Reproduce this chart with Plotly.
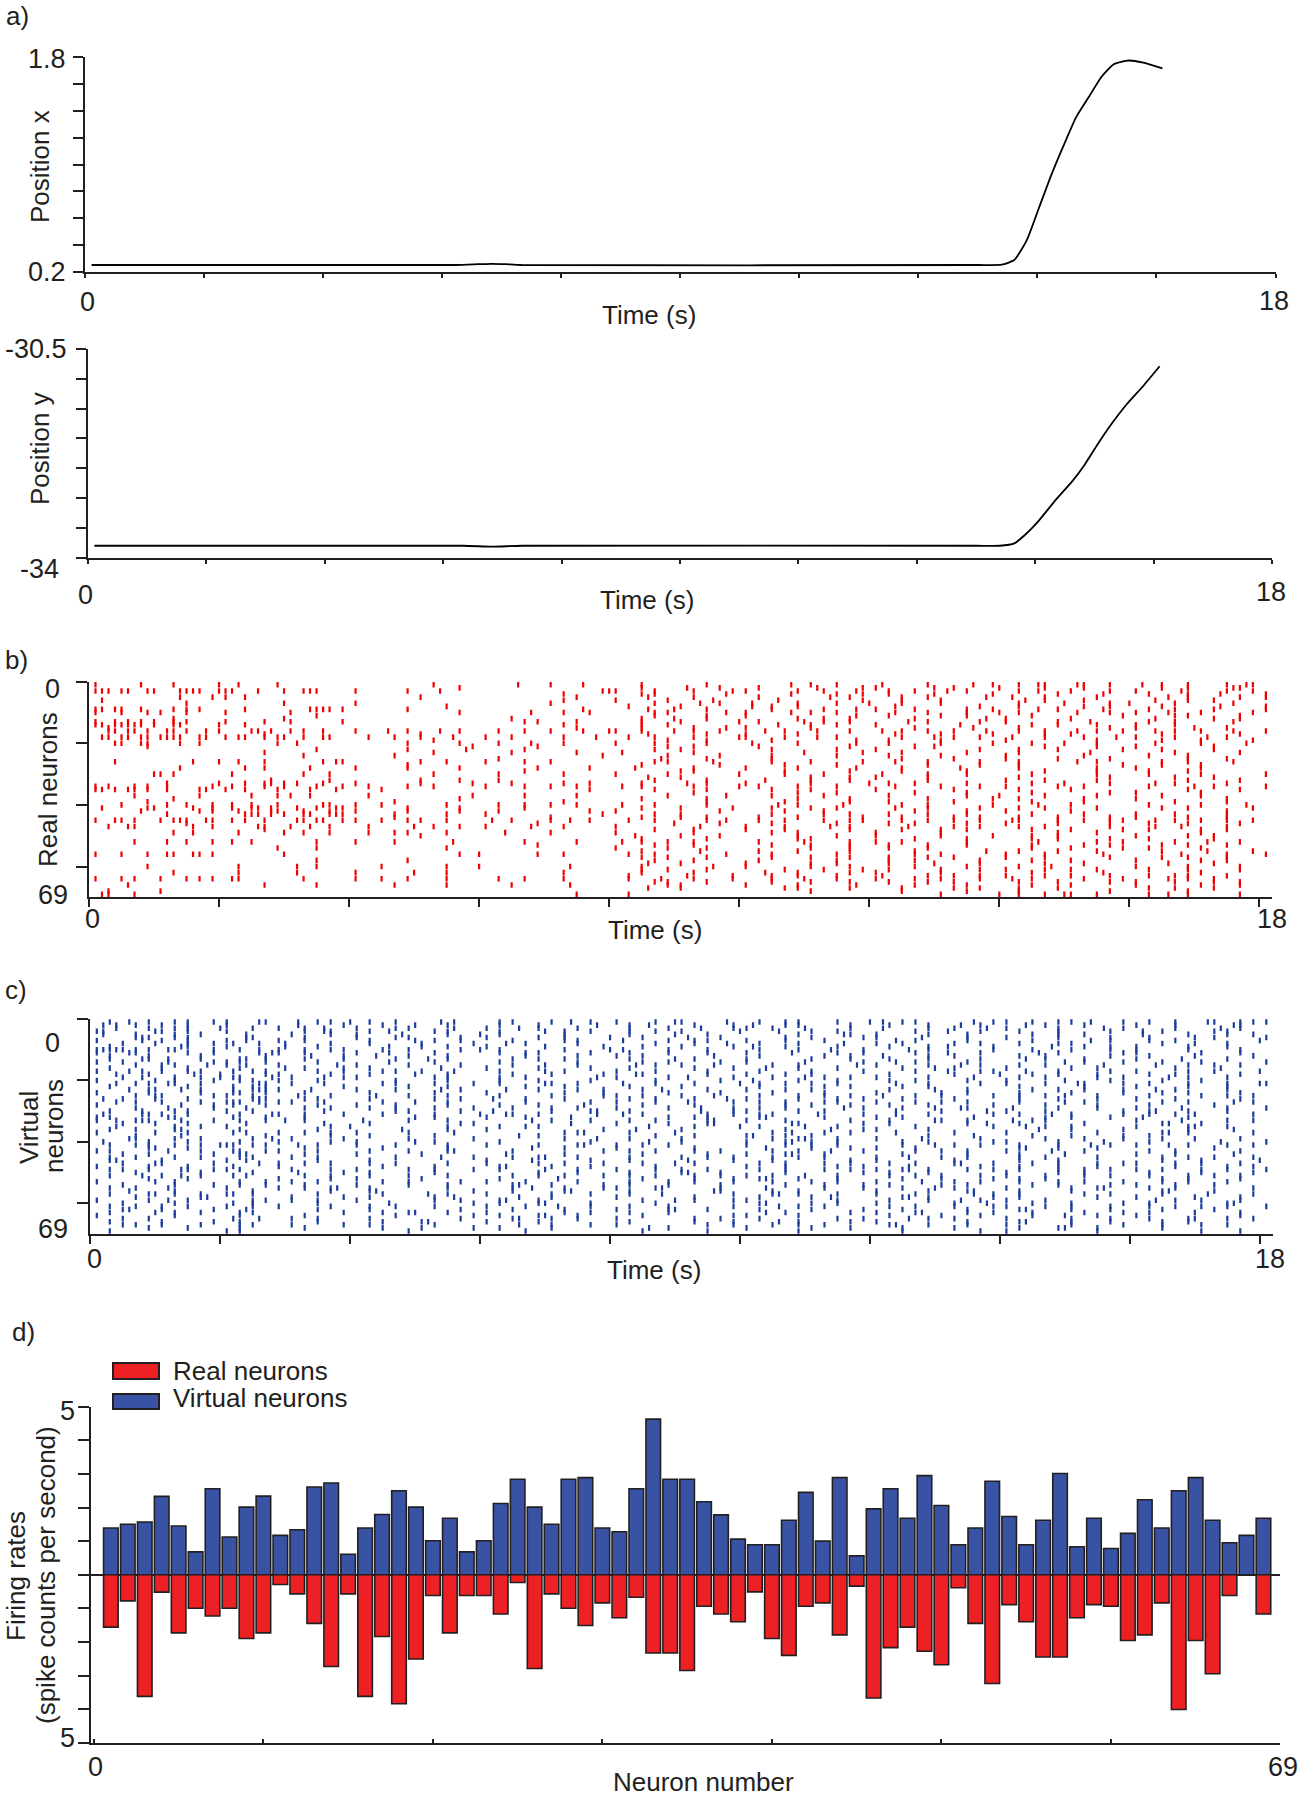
import plotly.graph_objects as go

W, H = 1298, 1800
FONT = "Liberation Sans, Arial, Helvetica, sans-serif"
INK = "#231f20"
FS = 26      # axis titles / legend
FT = 27      # tick numbers

# ---------------- panel a: trajectory ----------------
TIME_X = [0.1, 5.6, 5.95, 6.15, 6.35, 6.6, 13.5, 13.86, 14.05, 14.24, 14.43, 14.62,
          14.81, 14.99, 15.18, 15.37, 15.56, 15.78, 16.0, 16.29]
POS_X = [0.25, 0.25, 0.256, 0.259, 0.256, 0.25, 0.25, 0.252, 0.287, 0.436, 0.685, 0.934,
         1.158, 1.357, 1.506, 1.655, 1.75, 1.776, 1.76, 1.718]

TIME_Y = [0.1, 5.7, 6.15, 6.6, 13.5, 13.86, 14.08, 14.27, 14.46, 14.71, 14.96, 15.15,
          15.34, 15.53, 15.78, 16.04, 16.29]
POS_Y = [-33.80, -33.80, -33.815, -33.80, -33.80, -33.80, -33.76, -33.59, -33.37, -33.03,
         -32.72, -32.44, -32.11, -31.80, -31.44, -31.12, -30.79]

# ---------------- panels b, c: spike rasters ----------------
# one string per neuron row; each digit covers 0.2 s:
# 0 = no spike, 1 = spike in first 0.1 s bin, 2 = second bin, 3 = both
RED_ROWS = [
    "1002001002 0100100000 0000001000 0020010200 0010000100 0002010100 2000100201 0121021010 2010100121 0",
    "0000000000 0000000000 0000000010 0000000000 0010020010 0100020001 1000201002 0001001000 0010100210 0",
    "3130302312 3020203100 1000102000 0000000003 1001001001 1000101020 0101020100 0120010010 1002000101 0",
    "0000000000 0000000000 0000000000 0000001000 0011000020 0002000101 0100200001 0000100200 0100102000 1",
    "0000002001 1200000000 0000010000 0000000100 0020001000 0100002010 0010100020 2001000100 0020100010 1",
    "2000000000 0000000000 0000000000 0000001000 1000100200 0020000001 0010010000 0201001000 0200101000 0",
    "0000000100 0000200000 1000000000 0000010000 0001002010 2000100102 0010010000 0100200012 0001000200 0",
    "0000000000 0000000000 0000000100 0000000000 0100010000 2010100000 0200000010 0100001010 0010002000 1",
    "3212001110 0200002311 0000100000 0000000200 0020200100 0010001020 1001000101 0020100200 0101001000 1",
    "1010110100 1000010000 0000000010 0002001010 0001100020 1002010100 0200100102 0100020010 1020010001 0",
    "0000000000 0000000100 0000000000 0000000000 0001000100 1000000020 0100010100 0010000001 0001100010 0",
    "0000001000 0000200000 0000000000 0010000000 0010200100 0000101010 0001000020 1000010000 0200001010 0",
    "1222201100 1001010001 0000000000 0001100100 0010010002 0100201010 0020100010 1000102000 0101000200 0",
    "3233203002 0200000000 0000000000 0000001000 0010100000 0020010100 1000002000 0010100100 1001000000 0",
    "0100000000 0000000000 0000000000 0000000100 0010001020 1000010000 0001000200 0100000010 1000200100 0",
    "0321121122 0032011200 1020102010 0101010202 1010201010 0201020010 2010101020 0101020101 0201010200 1",
    "0000000000 0001000000 0000010000 0000000000 0020000100 1000100000 0200010001 0001010000 0010000010 0",
    "2132133030 1301301210 0101010200 1010001020 0101001002 1001020100 0010201010 2001001020 1001020100 0",
    "0000000000 0000000000 0000001000 0000000000 0000100100 0010000020 0100010000 1000000100 0010010001 0",
    "0212102010 0000120000 0000100010 0102001000 1001000100 2000100020 0100010001 0010200100 0200010020 0",
    "0000100000 0000000000 0000000001 0000100000 0000101000 0100000010 0001200000 0001000100 1000001000 0",
    "0000000000 0000000100 0000100020 0001000000 0001010000 0010000100 1000000010 0100100001 0010001000 0",
    "0000000000 0001000000 0000001000 0010000100 2000001000 0000200001 0010000100 0100002000 0001000010 0",
    "0000000000 0000001000 0001000000 0000000001 0000100010 0010000100 0100010000 1000001000 0100100000 0",
    "0000000000 0000000000 0000000000 0100000000 0002000100 0010000000 0010001000 1000100010 0000100100 0",
    "0200000202 0101000221 0000010100 1001010000 0001100200 0010010001 0200100010 0100020100 0010100200 0",
    "0000000000 0000000000 0000100000 0000000000 0010000010 0001000100 0000100010 0100000001 0010010000 0",
    "0000002000 0201002000 1000100010 0000100010 0200001000 1000100020 0010002000 0100000100 1000010000 0",
    "0000000000 0000000000 0000000000 0001000000 0000011000 0001000010 0010000100 0001000100 0100100000 0",
    "0000211000 2000001010 0000001000 0100001000 1000100002 0001001000 2000100100 0010000100 0100010000 1",
    "0000000000 0000000000 0000000000 0000000000 0020010000 0000010010 1000100000 0100000010 0001001000 0",
    "0000000000 0002000010 0000010010 0100000000 0001000100 0200010010 0000100000 1001000100 0000100010 0",
    "0000020002 0203220200 1000010001 0010001010 0010020100 1000010002 0101000100 0010200010 0201000100 0",
    "1101120001 2001200101 0100101000 1001010100 2010001002 0100100100 0200010010 1000101000 0100201000 1",
    "3221120030 1200102020 0010000000 0000000010 0001000100 0010010000 1000001000 0100010000 0000100010 0",
    "0000000000 0000000000 0000000000 0000000000 0000001000 0000100100 0001000100 0010000010 1000010000 0",
    "0001000010 0010112000 0100000001 0001000100 0000100020 0010001000 0100000102 0001000100 0010010000 0",
    "0000001000 0000000000 0000000010 0000000000 0010000100 0000100010 0000100001 0100001000 1000000100 0",
    "0000100000 0000000000 0001000000 0000001000 0000000100 0001000010 0100001000 0010001000 0001000100 0",
    "0010020101 2010100210 1010000100 0101010100 2001000100 0020100200 0010100001 0020010000 0100010020 0",
    "2000300201 2032020121 0000100010 0001000000 0010010001 0010010100 0200100010 0101000100 0010100001 0",
    "0002000011 0102101010 1000100010 0100000010 1000000010 0001001000 0001000100 1000010000 0000000100 0",
    "0000020000 0232203031 0001000100 1000000001 0001010000 0010001010 0100100100 0010001000 1001000100 0",
    "0000000000 0000000000 0001000000 0000010000 0010010100 0100100001 0010001010 0100100010 1000100100 0",
    "1211013121 2201021301 1010110100 2010012010 0101000120 0101001011 0010101010 2100101011 0201010101 0",
    "0000000100 0000000000 0000000000 0000100000 0000200010 0010000100 0101000100 1000100010 0100100010 0",
    "0121000201 0021012010 0100201010 1002001000 1000002000 1001002010 0020001010 0101000010 0202000100 0",
    "0000000000 0001000000 0000000000 0000000000 0001001000 1001000010 0010010100 0010010001 0100010100 0",
    "0000001200 0100201010 0101100100 0200010000 1000001000 0010100000 1000010000 0000100100 0000010000 0",
    "0000000000 0000000000 0000010000 0000000000 0200010010 0000100100 1000010001 0010100000 1000101000 0",
    "0000000000 0000000000 0000000000 0000000000 0010000100 0000110000 0001000100 0010100010 0100001000 0",
    "0001020101 2010000100 1001000200 0001000100 2010101000 0100200010 1010000100 0020000101 0001020010 0",
    "0000000000 0000000000 0000000000 0000100000 0001001000 0010010010 0100100100 0010001010 0010100100 0",
    "0000000000 0000100100 0000000100 0000000000 1000100100 0000010010 0100100000 0010010001 0100010000 0",
    "0000000000 0000000000 0000000000 0000000000 0010002000 0100100010 0001000020 0100100100 0010020001 0",
    "1010121211 0000200000 0000000012 0000101000 0101000020 0010000100 0001010000 1001000200 0002000100 1",
    "0000000000 0000000000 0000000000 0000000000 0010100100 0010010010 0100101000 1001000010 0010100100 0",
    "0000000000 0000000100 0000100000 0000000000 0001001000 0100000100 0101000010 0010010000 1000010100 0",
    "0000000000 0000000000 0000000000 0000000000 0020010000 1000010100 0100200010 0001001000 0020001000 0",
    "0000100000 0100020100 0010000102 0000002000 0010000200 1000010010 0001000100 0102000000 1000100010 0",
    "0000000000 0000000000 0000000000 0000000000 0010100100 0001001001 0100010010 1001010100 0100100010 0",
    "0000001000 0100020000 1000200100 0000001000 0010001000 0200100010 1000010000 0010000200 0000010000 0",
    "0000000000 0000000000 0000000000 0000000000 0100020001 0010100100 2000101010 1001010010 0101100100 0",
    "1011010111 2100001000 1010100100 0101001000 0102001001 0010200100 1001010010 2010001001 0020101000 0",
    "0000000000 0000000000 0000000000 0000000000 0001100100 0010010010 0100101000 0100100010 1001001010 0",
    "0020000000 0001000100 0001000100 0010002000 0000110000 1000100020 0001000100 0010010000 1000010010 0",
    "0000000000 0000000000 0000000000 0000000000 0020010000 0001100010 0010001010 0100100000 0101001000 0",
    "0100010000 0000000000 0000000000 0000000000 0000000000 0000010000 0010000100 0100000010 0000100000 0",
    "2101000000 0000000000 0000000000 0000000100 0100000000 0000000000 0000010002 0101210100 0120100010 0",
]

BLUE_ROWS = [
    "0120101101 1021020112 0101002200 0110012010 1001210020 0101100102 2011000201 1010112001 0101021011 1",
    "2201010100 1000020001 0010200100 0100100020 0120001001 2001100010 0100102010 0201001000 1001000210 0",
    "0200101102 0010101200 1001100200 1020100100 0100102001 1010200010 2000101020 1000100201 0001002010 0",
    "3000210100 1000001210 0120001100 0100201010 0101010002 0020010100 0001020010 0100100010 2010001100 0",
    "2001001010 0200010010 1002000102 0100001000 0100200100 0000100210 1000100100 0010101000 2000100101 0",
    "0003101100 0210001000 1001100010 1000101002 0010020010 0001010001 1002000100 1000100010 0100201000 1",
    "1002010100 1200101000 0100201010 0010001100 2000101100 1001001000 0201000100 0010002010 0101000002 0",
    "0010200101 2020200010 0100010001 0201000100 0001001020 0100100200 1010001010 0100110000 0010200100 0",
    "0100002100 1000200100 0020010100 1000200001 0010010001 2001000100 0100120001 0002001010 1000100100 0",
    "3311121001 0120101011 0010100012 0100001002 2000100100 0100102001 0020100001 0010010010 1000100010 0",
    "1021000101 0022101000 1020001000 0101100010 0100100100 1002000101 0001020010 0020100001 1000010010 0",
    "0100100010 0001002001 0200100100 0001000100 1010000200 0100001010 2000101000 0101000010 0100200001 0",
    "0102120010 0301001001 0001020100 0010101000 0100201000 1000010010 0100100010 0201001000 1002000100 0",
    "1010020001 1101000100 0020001000 0100000100 0010100010 1000200001 0201000100 0000201001 0010010000 1",
    "0001011020 1200100020 1000100010 0010200100 0201010200 0010100020 1000102010 0101000200 0200101010 0",
    "0100010100 0100201001 0100002000 1000100010 0100001001 0200100100 0010201000 1000010100 0001002000 0",
    "1022010110 2011000101 0011010200 0100201000 1001000100 0100010001 0001020011 0200100010 1000101002 0",
    "0200100202 0001100010 0100200100 0010010001 0210000100 1001010000 0100001002 0010100100 0101000010 0",
    "0012001012 2102010201 1000001100 0101000020 1000120001 0010201010 1000100200 0101000101 0020100100 0",
    "1000201001 0110100100 0001000100 0100100010 0001000010 2000100100 0101000100 1000200010 0010010000 0",
    "0201121010 0021010200 0011001001 0100210100 2001001002 0101010100 0200100010 1001021001 0100100102 1",
    "0100000100 2011000001 0000100100 0001001000 0100010000 0100001010 0010100000 0100001000 1000100100 0",
    "0020302010 2031102000 1001002010 0200100101 0012000100 1001010000 0100200100 0010101001 0201000100 0",
    "1000100010 2101001000 0100001000 1000001001 0000100010 0010001000 1000010100 0100010001 0010100010 0",
    "0001210001 1010020010 0200100100 0100010001 1010010200 0100101010 2001010001 0101200100 0100010101 0",
    "2010200100 0031001100 0100001010 2001001000 0101001020 1000100101 0010001000 0100100100 1001000010 0",
    "0201010010 3120110200 0010200100 0001000010 1001020001 0101001100 1001010100 0100201000 0010100201 0",
    "1000002001 2001000100 1001000100 0100100200 0010001000 0001010010 0100100001 0001000100 0100001000 0",
    "0001020001 0200001010 0101001001 0010010100 1000102001 0101000201 0010202100 2000100100 1002000100 1",
    "0102001100 1010000200 0001100010 2000010030 0100002001 1000101000 0200010020 1001000001 0300100100 0",
    "2002110100 0102101001 0010001002 0210100020 2010000101 0110020001 0200100001 0102010001 0101200001 0",
    "1100021000 2001001000 0000201000 1001002000 0000101100 0300001000 1010000200 0001010010 2000100000 0",
    "1203102001 0101201000 2000100100 0002010010 0101000300 1001000010 0100210100 2011000000 1002000101 0",
    "0010200100 0200000200 0100000011 0000002000 1000100300 0002100001 0100000120 0100001000 0030010000 0",
    "0200001010 1000000012 0000000100 0101100000 0020001002 0100200100 0001000001 0201010000 1000300100 0",
    "0101003000 0100000100 0002000100 1000000001 0200010000 0001002001 1000100000 0020010001 0000100200 0",
    "1000200100 2200101010 1000100200 0000001300 0100200000 0012001010 0200001000 1000000100 0030100001 0",
    "0001002000 0001000010 0100001000 0020100000 0001001000 3001010000 0000100200 0010010001 0100000000 0",
    "0021001010 0012010001 0000100001 0000001020 0100010000 0010300100 1002000010 0001001001 0010200010 0",
    "2000100100 0100100010 1000201000 0100000010 0020010000 1003010100 0010100001 1000100200 0100002000 1",
    "0101101012 3011020100 1001000100 1000100300 1010100000 1001010100 0010201010 0100102010 1020100101 0",
    "0000300100 0000001000 0010000100 0002001000 1000001000 0200010010 1001000000 0300100100 0000001000 0",
    "1100020010 2101100100 0100100300 0010000001 0101001010 0010102001 0001010100 1002001000 0101000010 0",
    "0010100001 0300001000 1000010000 0200001000 0010000100 1003001000 0010000100 0100200000 1001000200 0",
    "0101001010 0110010100 0001002001 0010300100 0100010101 0010101000 1020010100 0101000100 0010101001 0",
    "0300010000 1200000100 0100000000 1002000010 0100020001 0010000010 1000001000 0100100000 0010010002 0",
    "0010210001 0020101010 0101000100 1000101001 0010201000 0101001010 0101003001 0010100101 1001010010 0",
    "1000100100 2000100000 0010001000 0300010010 0001000000 1001000101 0020000010 0100100100 0001000101 0",
    "0110102101 1100010010 1000101001 0100200100 1001010100 0101001010 1030100101 0100101010 1010010100 1",
    "0001000010 0010020001 0100001000 0000100100 0100030010 0001000001 0100100000 1000101000 0100010001 0",
    "0102012010 2200001010 0100100100 0010101001 0101001010 1010200100 0101010010 1001001010 0100101010 0",
    "0000100100 0000100010 1000010000 0100020000 0010001001 0300100100 0010010001 0101000000 0010100010 0",
    "1000201000 0101010100 0010100010 1001000100 0100101001 0010010100 1002001010 0100101001 0010100100 0",
    "0010001001 0101001000 1000100100 0030010001 0100100010 0001001001 0100010100 0010100010 1001001000 0",
    "0101020000 1000101030 0100000100 0012001001 1003000010 0200001001 0010201000 1000010300 0101000001 0",
    "0020001000 0010000010 0300000001 0010003000 0100000210 0010100000 1000100300 0100010000 0030001000 0",
    "0100301010 3010000100 0010020100 1000010010 0102000001 0030100100 1001000201 0100001010 0010020001 0",
    "0001000030 0000010001 0100001200 0020010000 1000001000 0100012000 0030100001 0100000100 1000200010 0",
    "1000120100 0011010100 1000001010 0300100000 0010201001 1000000100 0100102010 1001000000 0201010010 0",
    "0010001000 2010000100 0020000001 0100300010 0001000000 0300010100 1000001020 0010010001 0100000300 0",
    "0101010100 1010100010 0101001000 1001020010 0100100001 0020101000 0101001001 1001010010 0101010100 1",
    "0030010001 0200000100 0100000010 0010001000 1000300100 0100010001 0010000100 0300010010 0010001000 0",
    "0100201010 0110000001 0010300100 1000001010 0100100000 0201000010 1003000101 0010001001 0100200010 0",
    "1000001000 0100001000 0001000001 0100300100 0010000001 1000100000 0100010010 0010200100 1000000010 0",
    "0010100000 2020010100 0100000010 0030010100 1000001010 0100000101 0020101000 1000010010 0100300101 0",
    "0100010001 0100000100 0010030000 1000100000 0100001001 0020100010 1000000100 0300010010 0010100000 0",
    "0011010010 0110010001 0100001000 0020010010 1000000101 0010101000 0300100100 1000010001 0010010100 0",
    "0000100100 0100001000 0010010001 0100010000 0020100000 1000010010 0010001000 0100300100 0010000000 0",
    "0100000000 1100000000 0000100000 0001000000 0010000100 0000100000 0010000010 1000000100 0000010010 0",
]

# ---------------- panel d: firing rates ----------------
NEURON_IDS = list(range(1, 70))
VIRTUAL_RATES = [
    1.39, 1.50, 1.57, 2.33, 1.45, 0.68, 2.56, 1.12, 2.01, 2.34,
    1.17, 1.34, 2.61, 2.73, 0.61, 1.39, 1.79, 2.50, 2.01, 1.01,
    1.68, 0.68, 1.01, 2.12, 2.84, 2.01, 1.50, 2.84, 2.89, 1.39,
    1.28, 2.56, 4.63, 2.84, 2.84, 2.17, 1.78, 1.06, 0.89, 0.89,
    1.62, 2.45, 1.00, 2.89, 0.56, 1.96, 2.56, 1.68, 2.95, 2.06,
    0.89, 1.39, 2.78, 1.73, 0.89, 1.62, 3.01, 0.83, 1.68, 0.78,
    1.23, 2.23, 1.39, 2.50, 2.89, 1.62, 0.95, 1.17, 1.68,
]
REAL_RATES = [
    1.56, 0.78, 3.62, 0.52, 1.73, 1.00, 1.23, 1.00, 1.90, 1.73,
    0.29, 0.57, 1.45, 2.73, 0.57, 3.62, 1.84, 3.84, 2.51, 0.62,
    1.73, 0.62, 0.62, 1.17, 0.23, 2.79, 0.57, 1.00, 1.51, 0.84,
    1.28, 0.67, 2.33, 2.33, 2.85, 0.94, 1.17, 1.40, 0.51, 1.90,
    2.40, 0.94, 0.84, 1.79, 0.34, 3.67, 2.17, 1.56, 2.28, 2.68,
    0.39, 1.45, 3.24, 0.89, 1.40, 2.45, 2.45, 1.28, 0.89, 0.94,
    1.96, 1.79, 0.84, 4.01, 1.96, 2.95, 0.62, 0.00, 1.17,
]


def raster_points(rows):
    xs, ys = [], []
    for r, row in enumerate(rows, start=1):
        for i, c in enumerate(row.replace(" ", "")):
            v = int(c)
            if v & 1:
                xs.append(round(0.2 * i + 0.1, 2))
                ys.append(r)
            if v & 2:
                xs.append(round(0.2 * i + 0.2, 2))
                ys.append(r)
    return xs, ys


def dom_x(a, b):
    return [a / W, b / W]


def dom_y(top, bottom):
    return [1 - bottom / H, 1 - top / H]


def axis(domain, rng, tickvals, ticklen, ticks="outside", **kw):
    d = dict(domain=domain, range=rng, tickvals=tickvals, ticks=ticks, ticklen=ticklen,
             tickwidth=2, tickcolor=INK, showline=True, linecolor=INK, linewidth=2,
             showgrid=False, zeroline=False, showticklabels=False, fixedrange=True)
    d.update(kw)
    return d


fig = go.Figure()

fig.add_trace(go.Scatter(x=TIME_X, y=POS_X, mode="lines",
                         line=dict(color="black", width=1.8, shape="spline", smoothing=0.5),
                         xaxis="x", yaxis="y", hoverinfo="skip"))
fig.add_trace(go.Scatter(x=TIME_Y, y=POS_Y, mode="lines",
                         line=dict(color="black", width=1.8, shape="spline", smoothing=0.5),
                         xaxis="x2", yaxis="y2", hoverinfo="skip"))

rx, ry = raster_points(RED_ROWS)
fig.add_trace(go.Scatter(x=rx, y=ry, mode="markers",
                         marker=dict(symbol="line-ns", size=4, color="#f00000",
                                     line=dict(color="#f00000", width=2.2)),
                         xaxis="x3", yaxis="y3", hoverinfo="skip"))
bx, by = raster_points(BLUE_ROWS)
fig.add_trace(go.Scatter(x=bx, y=by, mode="markers",
                         marker=dict(symbol="line-ns", size=4, color="#1c3d9c",
                                     line=dict(color="#1c3d9c", width=2.2)),
                         xaxis="x4", yaxis="y4", hoverinfo="skip"))

fig.add_trace(go.Bar(x=NEURON_IDS, y=VIRTUAL_RATES, width=0.86,
                     marker=dict(color="#3953a4", line=dict(color=INK, width=1.6)),
                     xaxis="x5", yaxis="y5", hoverinfo="skip"))
fig.add_trace(go.Bar(x=NEURON_IDS, y=[-v for v in REAL_RATES], width=0.86,
                     marker=dict(color="#ed2024", line=dict(color=INK, width=1.6)),
                     xaxis="x5", yaxis="y5", hoverinfo="skip"))

layout = dict(
    xaxis=axis(dom_x(85, 1275.5), [0, 18], [1.8 * k for k in range(11)], 4, anchor="y"),
    yaxis=axis(dom_y(57.3, 271.7), [0.2, 1.8], [0.2 + 0.2 * k for k in range(9)], 10, anchor="x"),
    xaxis2=axis(dom_x(87.8, 1272.2), [0, 18], [1.8 * k for k in range(11)], 4, anchor="y2"),
    yaxis2=axis(dom_y(349, 557.7), [-34, -30.5], [-34 + 0.5 * k for k in range(8)], 10, anchor="x2"),
    xaxis3=axis(dom_x(89, 1272.4), [0, 18.2], list(range(0, 19, 2)), 8, anchor="y3"),
    yaxis3=axis(dom_y(681.7, 897.3), [70, 0], [0, 20, 40, 60], 11, anchor="x3"),
    xaxis4=axis(dom_x(90.3, 1272.8), [0, 18.2], list(range(0, 19, 2)), 8, anchor="y4"),
    yaxis4=axis(dom_y(1019, 1234), [70, 0], [0, 20, 40, 60], 11, anchor="x4"),
    xaxis5=axis(dom_x(90.5, 1280.4), [-0.2, 70], list(range(0, 71, 10)), 4, ticks="inside", anchor="y5"),
    yaxis5=axis(dom_y(1406.7, 1742.7), [-5, 5], list(range(-5, 6)), 11, anchor="x5",
                zeroline=True, zerolinecolor=INK, zerolinewidth=2),
)


def label(text, x, y, angle=0, xanchor="center", size=FS):
    return dict(text=text, x=x / W, y=1 - y / H, xref="paper", yref="paper", showarrow=False,
                textangle=angle, xanchor=xanchor, yanchor="middle",
                font=dict(family=FONT, size=size, color=INK))


annotations = [
    label("a)", 17, 16),
    label("1.8", 68, 59, xanchor="right", size=FT),
    label("0.2", 68, 271.5, xanchor="right", size=FT),
    label("Position x", 40, 167, angle=-90),
    label("0", 87, 302, size=FT),
    label("18", 1274, 301, size=FT),
    label("Time (s)", 649, 315),

    label("-30.5", 69, 349.5, xanchor="right", size=FT),
    label("-34", 61, 569.5, xanchor="right", size=FT),
    label("Position y", 40, 449, angle=-90),
    label("0", 85.5, 594.5, size=FT),
    label("18", 1271, 592, size=FT),
    label("Time (s)", 647, 600),

    label("b)", 16, 660),
    label("0", 53, 689.5, size=FT),
    label("69", 53, 895, size=FT),
    label("Real neurons", 48, 790, angle=-90),
    label("0", 93, 918.5, size=FT),
    label("18", 1272, 919, size=FT),
    label("Time (s)", 655, 930),

    label("c)", 16, 989.5),
    label("0", 53, 1043, size=FT),
    label("69", 53, 1229, size=FT),
    label("Virtual", 29, 1127, angle=-90),
    label("neurons", 54, 1126, angle=-90),
    label("0", 94, 1259, size=FT),
    label("18", 1270, 1259, size=FT),
    label("Time (s)", 654, 1270),

    label("d)", 23, 1331.5),
    label("Real neurons", 171, 1371, xanchor="left"),
    label("Virtual neurons", 171, 1398, xanchor="left"),
    label("5", 67, 1411, size=FT),
    label("5", 67, 1737.5, size=FT),
    label("Firing rates", 16, 1576, angle=-90),
    label("(spike counts per second)", 46, 1575, angle=-90),
    label("0", 95, 1767, size=FT),
    label("69", 1282.5, 1767, size=FT),
    label("Neuron number", 703.5, 1782),
]


def patch(x0, y0, x1, y1, color):
    return dict(type="rect", xref="paper", yref="paper", x0=x0 / W, x1=x1 / W,
                y0=1 - y1 / H, y1=1 - y0 / H, fillcolor=color,
                line=dict(color=INK, width=2))


shapes = [
    patch(113, 1363, 159, 1379, "#ed2024"),
    patch(113, 1394, 159, 1409, "#3953a4"),
]

fig.update_layout(
    width=W, height=H, autosize=False,
    margin=dict(l=0, r=0, t=0, b=0, pad=0),
    paper_bgcolor="white", plot_bgcolor="white",
    showlegend=False, barmode="overlay",
    annotations=annotations, shapes=shapes,
    font=dict(family=FONT, size=FS, color=INK),
    **layout,
)

fig.write_html("out.html", config={"displayModeBar": False, "staticPlot": True},
               post_script="document.body.style.margin='0';")
